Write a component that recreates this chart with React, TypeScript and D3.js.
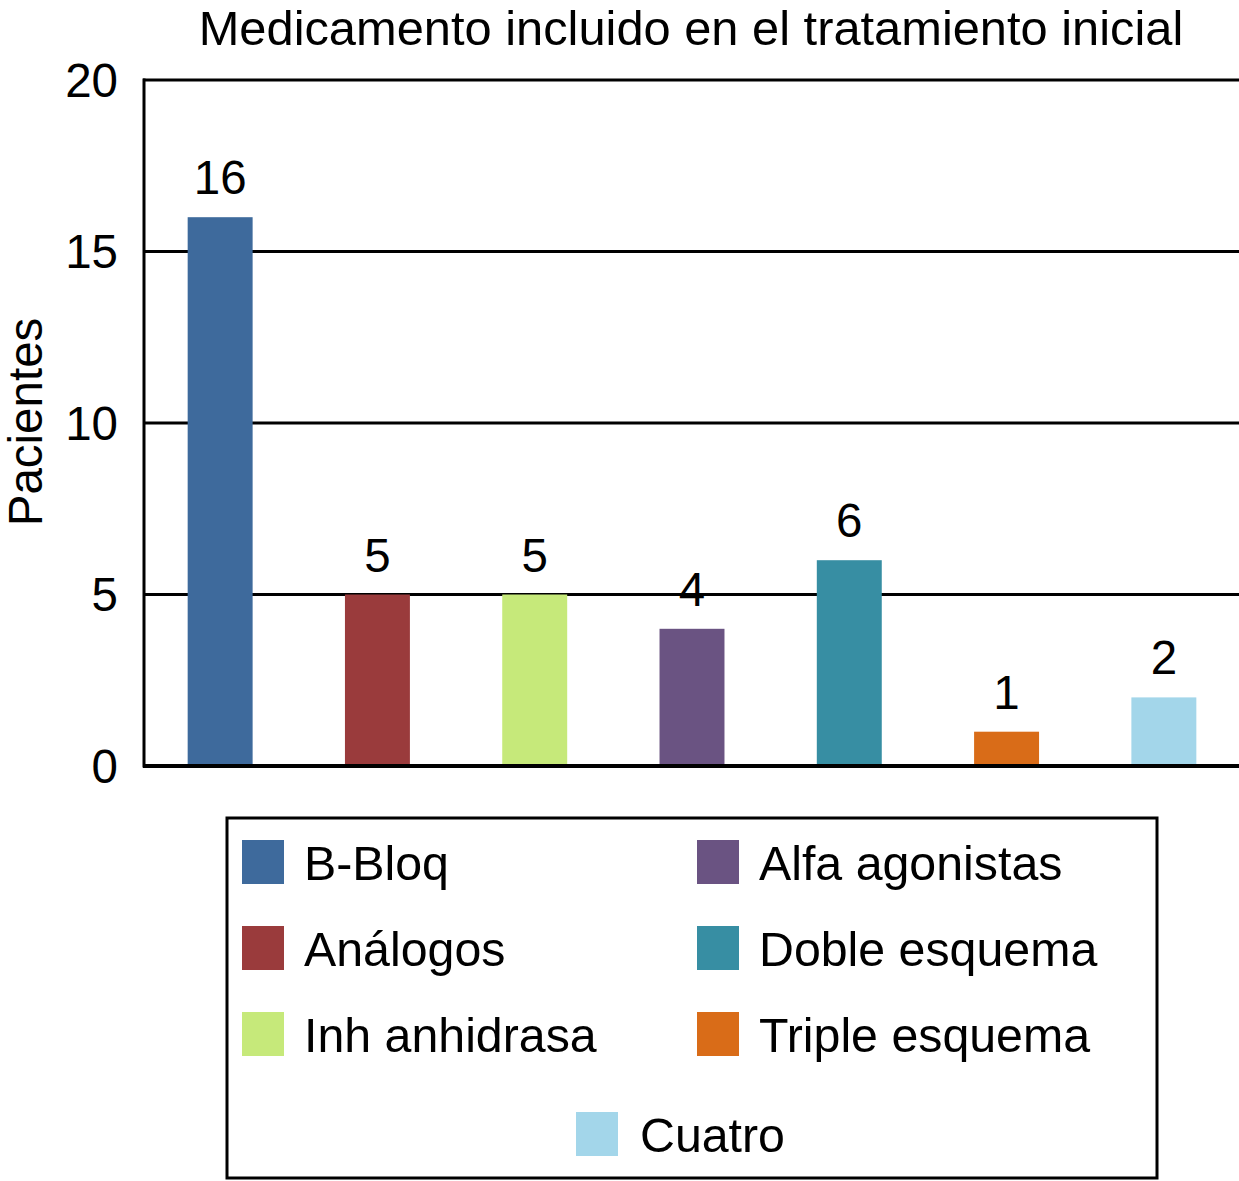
import React from "react";
import * as d3 from "d3";

const categories = [
  "B-Bloq",
  "Análogos",
  "Inh anhidrasa",
  "Alfa agonistas",
  "Doble esquema",
  "Triple esquema",
  "Cuatro",
];
const pacientes = [16, 5, 5, 4, 6, 1, 2];
const colors = [
  "#3e6a9c",
  "#9a3b3c",
  "#c6e97a",
  "#6a5382",
  "#378ea3",
  "#d96c18",
  "#a3d6ea",
];
const yTicks = [0, 5, 10, 15, 20];
const title = "Medicamento incluido en el tratamiento inicial";
const yLabel = "Pacientes";

const width = 1239;
const height = 1181;
const font = "'Liberation Sans', Arial, Helvetica, sans-serif";

export default function App() {
  const x = d3
    .scaleBand<string>()
    .domain(categories)
    .range([141.5, 1242.5])
    .paddingInner(0.587)
    .paddingOuter(0.2935);
  const y = d3.scaleLinear().domain([0, 20]).range([766, 80]);

  // legend layout: two columns of three, last one centred below
  const legendPos = (i: number) => {
    if (i < 3) return { sx: 242, tx: 304, top: 840 + i * 86 };
    if (i < 6) return { sx: 697, tx: 759, top: 840 + (i - 3) * 86 };
    return { sx: 576, tx: 640, top: 1112 };
  };

  return (
    <svg
      width={width}
      height={height}
      style={{ position: "absolute", left: 0, top: 0, display: "block", background: "#fff" }}
      fontFamily={font}
    >
      <text x={691} y={44.5} fontSize={48.8} textAnchor="middle" fill="#000">
        {title}
      </text>

      {/* grid lines */}
      {yTicks.map((t) => (
        <line
          key={"g" + t}
          x1={143}
          x2={width}
          y1={y(t)}
          y2={y(t)}
          stroke="#000"
          strokeWidth={3}
        />
      ))}
      {yTicks.map((t) => (
        <text
          key={"t" + t}
          x={118}
          y={y(t)}
          dy="0.35em"
          fontSize={47.5}
          textAnchor="end"
          fill="#000"
        >
          {t}
        </text>
      ))}
      <text
        transform={`translate(42,422) rotate(-90)`}
        fontSize={47.5}
        textAnchor="middle"
        fill="#000"
      >
        {yLabel}
      </text>

      {/* bars */}
      {categories.map((c, i) => (
        <rect
          key={c}
          x={x(c)}
          y={y(pacientes[i])}
          width={x.bandwidth()}
          height={y(0) - y(pacientes[i])}
          fill={colors[i]}
        />
      ))}
      {categories.map((c, i) => (
        <text
          key={"v" + c}
          x={(x(c) as number) + x.bandwidth() / 2}
          y={y(pacientes[i]) - 23}
          fontSize={47.5}
          textAnchor="middle"
          fill="#000"
        >
          {pacientes[i]}
        </text>
      ))}

      {/* axes */}
      <line x1={144} x2={144} y1={y(20) - 1.5} y2={y(0) + 1.5} stroke="#000" strokeWidth={3} />
      <line x1={143} x2={width} y1={y(0)} y2={y(0)} stroke="#000" strokeWidth={4} />

      {/* legend */}
      <rect x={227} y={818} width={930} height={360} fill="none" stroke="#000" strokeWidth={3} />
      {categories.map((c, i) => {
        const p = legendPos(i);
        return (
          <g key={"l" + c}>
            <rect x={p.sx} y={p.top} width={42} height={44} fill={colors[i]} />
            <text x={p.tx} y={p.top + 40} fontSize={48.3} fill="#000">
              {c}
            </text>
          </g>
        );
      })}
    </svg>
  );
}
